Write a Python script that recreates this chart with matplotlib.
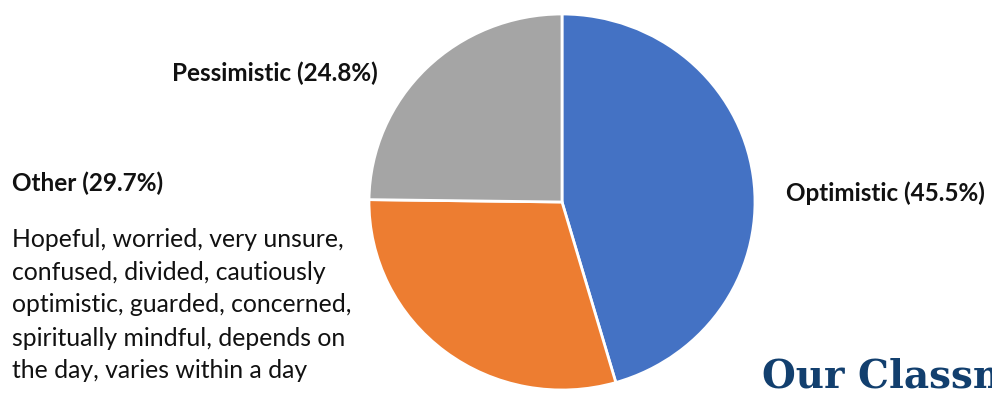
import matplotlib.pyplot as plt

# Survey outlook shares (percent), drawn clockwise from 12 o'clock
labels = ["Optimistic", "Other", "Pessimistic"]
shares = [45.5, 29.7, 24.8]
colors = ["#4472C4", "#ED7D31", "#A5A5A5"]

other_notes = [
    "Hopeful, worried, very unsure,",
    "confused, divided, cautiously",
    "optimistic, guarded, concerned,",
    "spiritually mindful, depends on",
    "the day, varies within a day",
]

W, H = 992, 403
fig = plt.figure(figsize=(W / 100, H / 100), dpi=100)
fig.patch.set_facecolor("white")


def fx(px):
    return px / W


def fy(py):
    return 1 - py / H


# -----------------------------
# Pie
# -----------------------------
cx, cy, rx, ry = 562, 202, 193, 188
ax = fig.add_axes([fx(cx - rx), fy(cy + ry), 2 * rx / W, 2 * ry / H])
ax.pie(
    shares,
    colors=colors,
    startangle=90,
    counterclock=False,
    radius=1,
    wedgeprops=dict(edgecolor="white", linewidth=2.0),
)
ax.set_aspect("auto")
ax.set_xlim(-1.0, 1.0)
ax.set_ylim(-1.0, 1.0)
ax.axis("off")

# -----------------------------
# Labels
# -----------------------------
font = "Lato"
lab = {name: f"{name} ({v:.1f}%)" for name, v in zip(labels, shares)}

fig.text(fx(172), fy(73), lab["Pessimistic"], fontsize=17.5, fontweight="bold",
         family=font, va="center", ha="left", color="#111111")
fig.text(fx(12), fy(183), lab["Other"], fontsize=17.5, fontweight="bold",
         family=font, va="center", ha="left", color="#111111")
fig.text(fx(786), fy(193), lab["Optimistic"], fontsize=17.5, fontweight="bold",
         family=font, va="center", ha="left", color="#111111")

for i, line in enumerate(other_notes):
    fig.text(fx(12), fy(239 + i * 33), line, fontsize=17.8, family=font,
             va="center", ha="left", color="#111111")

# slide heading, runs off the right edge
fig.text(fx(762), fy(376), "Our Classm", fontsize=28, fontweight="bold",
         family="DejaVu Serif", va="center", ha="left", color="#123F6E")

fig.savefig("out.png", dpi=100, facecolor="white")
